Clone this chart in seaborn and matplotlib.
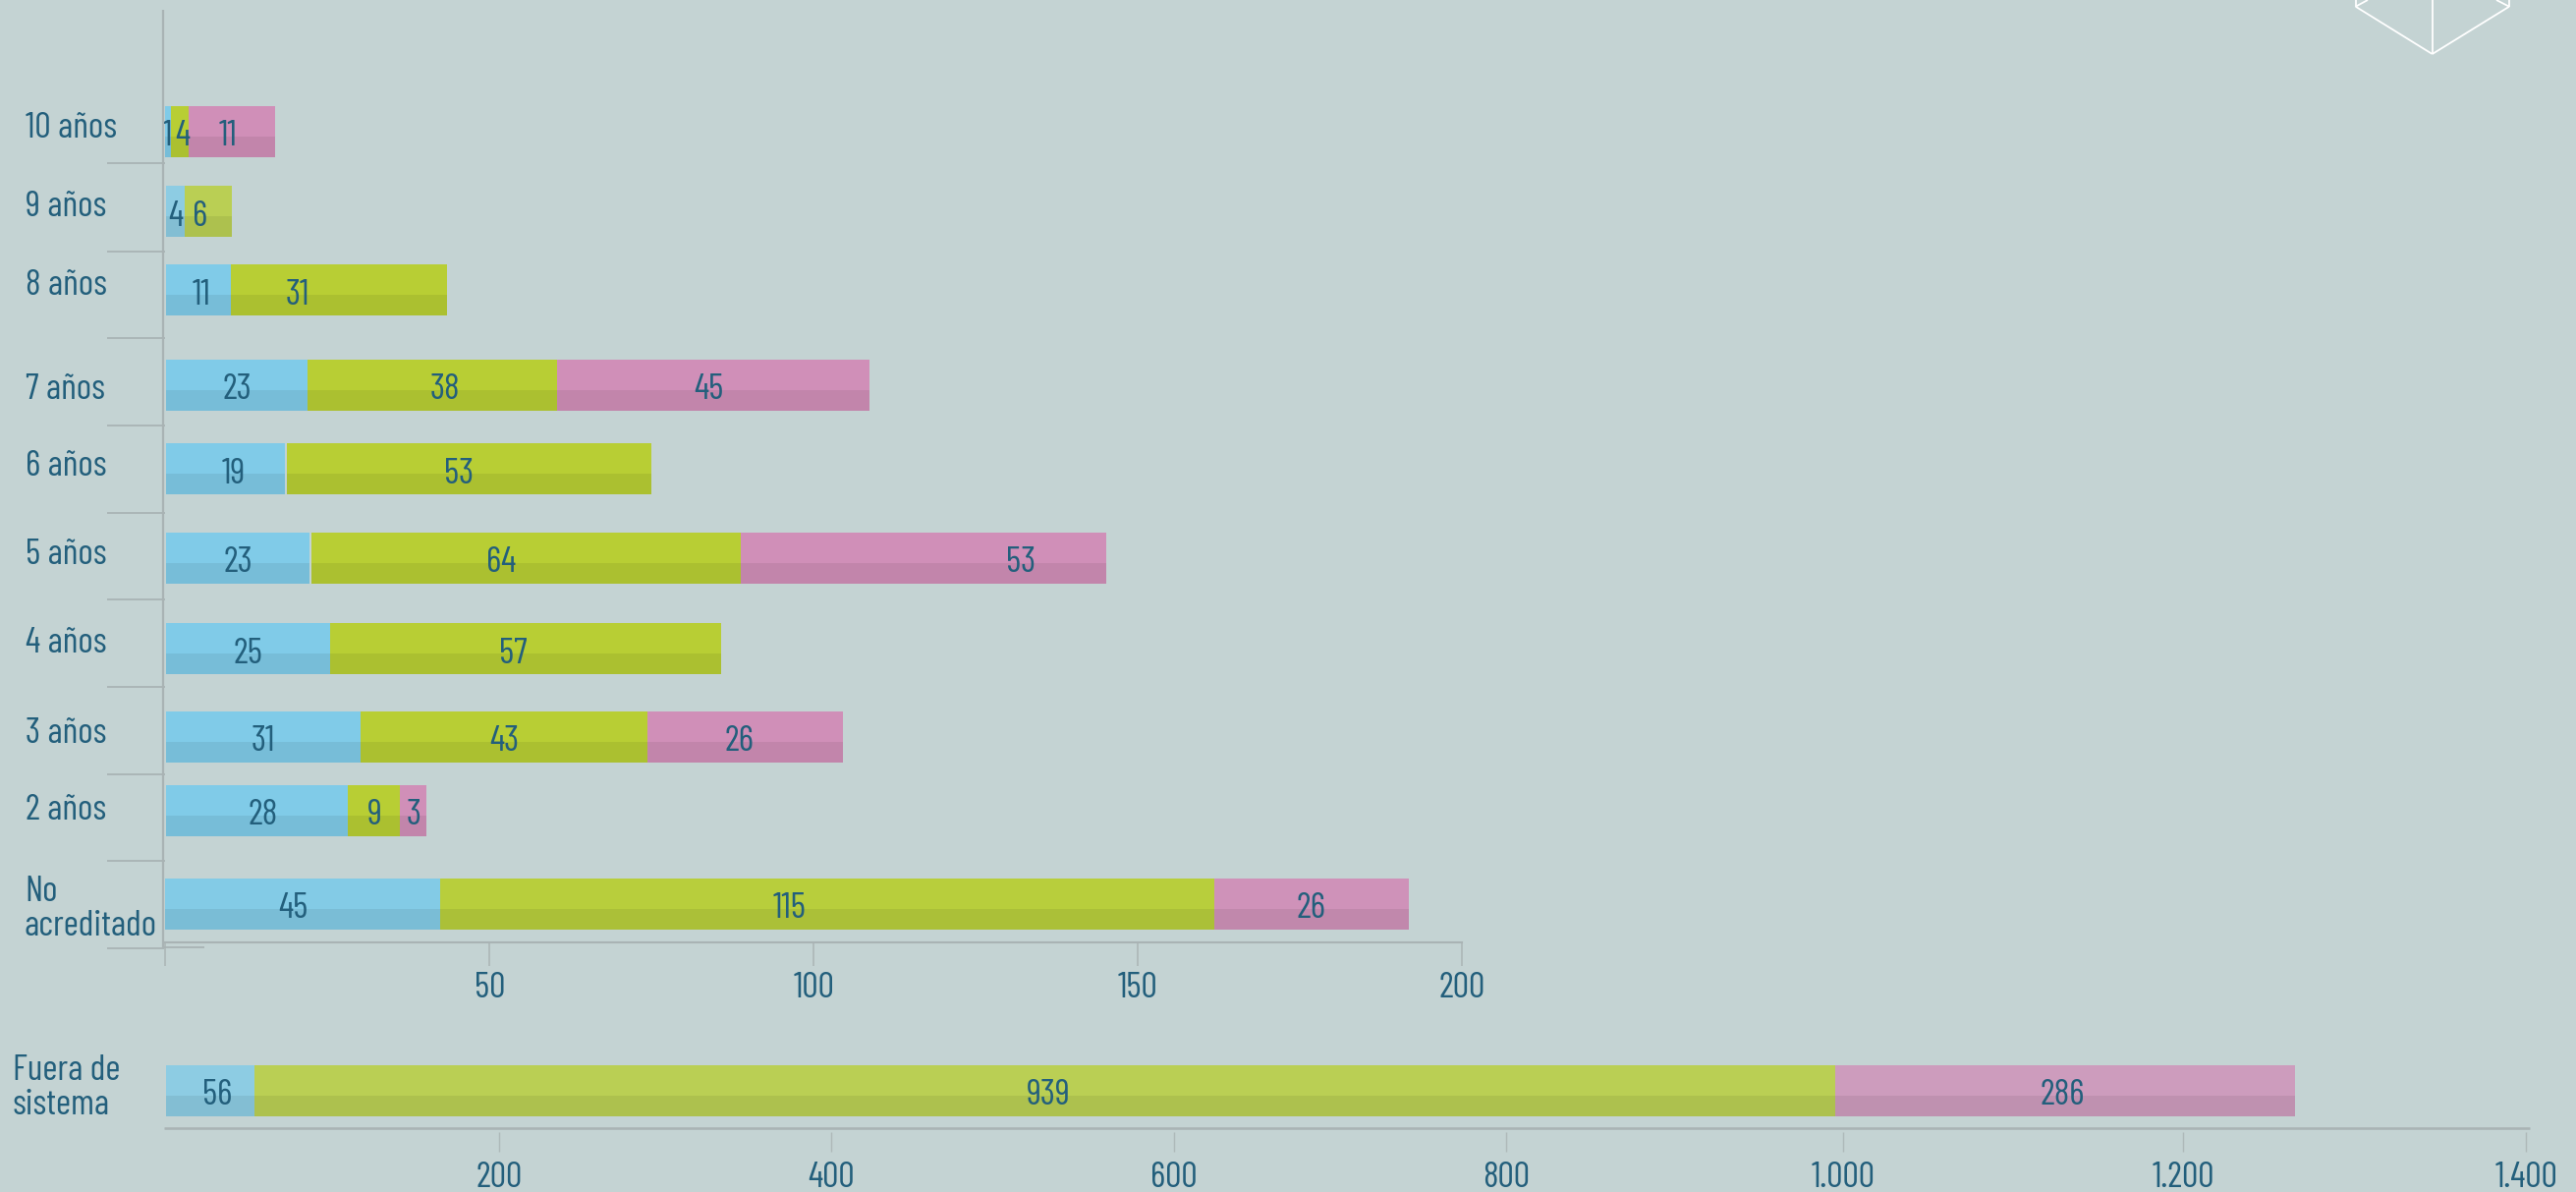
import numpy as np
import matplotlib
matplotlib.use("Agg")
import matplotlib.pyplot as plt
from matplotlib.lines import Line2D
from matplotlib.transforms import blended_transform_factory
from matplotlib import font_manager as fm
import seaborn as sns

# ---------- data ----------
categories = ["10 años", "9 años", "8 años", "7 años", "6 años", "5 años",
              "4 años", "3 años", "2 años", "No\nacreditado"]
# printed values
blue_labels = [1, 4, 11, 23, 19, 23, 25, 31, 28, 45]
green_labels = [4, 6, 31, 38, 53, 64, 57, 43, 9, 115]
pink_labels = [11, None, None, 45, None, 53, None, 26, 3, 26]
# segment lengths as read against the drawn axis (the source is not exactly to scale)
blue_len = [1.06, 2.9, 10.0, 21.8, 18.4, 22.1, 25.3, 30.0, 28.1, 42.6]
green_len = [2.7, 7.3, 33.3, 38.5, 56.2, 66.2, 60.3, 44.2, 8.0, 119.4]
pink_len = [13.3, 0, 0, 48.2, 0, 56.4, 0, 30.2, 4.1, 30.0]

outside_category = ["Fuera de\nsistema"]
outside_labels = [[56], [939], [286]]
outside_len = [[52.6], [935.0], [271.4]]

upper_ticks = [0, 50, 100, 150, 200]
upper_ticklabels = ["", "50", "100", "150", "200"]
# the tick marks of the source sit slightly off their nominal values
lower_ticks = [200, 396.4, 599.2, 795.6, 995, 1196, 1399]
lower_ticklabels = ["200", "400", "600", "800", "1.000", "1.200", "1.400"]

# ---------- layout / style (pixels of the 2622x1213 canvas) ----------
W, H = 2622, 1213
BG = "#C4D3D3"
TXT = "#235F7C"
LINE = "#A9B3B4"
TICK = "#AEB9B9"
BLUE, GREEN, PINK = "#80CBE8", "#B8CE34", "#D08FB8"
row_y = np.array([134, 215, 295, 392, 477, 568, 660.5, 750, 825, 920])
row_start = np.array([-0.2, 0.1, 0.1, 0.1, 0.1, 0.1, 0.1, 0.1, 0.1, -0.2])
row_alpha = [1, .8, 1, 1, 1, 1, 1, 1, 1, .95]
# thin background gap after the blue segment on the 6 and 5 años rows
blue_gap = np.array([0, 0, 0, 0, 0.2, 0.3, 0, 0, 0, 0])
sep_y = [166, 256, 344, 433, 522, 610, 699, 788, 876]
label_y = [130, 211, 290, 396, 474.5, 565, 655, 747, 825, 925]
BAR_H, STRIP_H = 52, 21
FS = 26.5
PX = 0.72  # px -> pt at 100 dpi

# pixel nudges of printed values from the segment centre, (row, series) -> dx
nudges = {(0, 1): 3, (0, 2): -4, (1, 1): -9, (2, 0): 3, (2, 1): -42, (3, 1): 13, (3, 2): -5,
          (4, 0): 8, (4, 1): -10, (5, 1): -25, (5, 2): 99, (6, 1): -13, (7, 2): -6,
          (8, 0): 6, (9, 0): -9, (9, 1): -38}

sns.set_theme(style="white")
installed = {f.name for f in fm.fontManager.ttflist}
plt.rcParams["font.family"] = [n for n in ["Barlow Condensed", "DejaVu Sans"] if n in installed]
plt.rcParams["font.size"] = FS
plt.rcParams["axes.facecolor"] = "none"


def place(top, bottom, left, right):
    return [left / W, (H - bottom) / H, (right - left) / W, (bottom - top) / H]


def stacked(ax, rows, series, start, colors, alphas, labels, nudge=None, gap=None, ylabel_nudge=5):
    rows = np.asarray(rows, float)
    native = np.min(np.diff(rows)) if len(rows) > 1 else 1
    left = np.asarray(start, float).copy()
    for s, (vals, col) in enumerate(zip(series, colors)):
        vals = np.asarray(vals, float)
        sns.barplot(x=vals, y=rows, orient="y", native_scale=True, left=left, color=col,
                    saturation=1, width=BAR_H / native, errorbar=None, linewidth=0, ax=ax)
        bars = ax.containers[-1]
        for patch, a in zip(bars, alphas):
            patch.set_alpha(a)
        # darker lower band of each bar
        sns.barplot(x=vals, y=rows + (BAR_H - STRIP_H) / 2, orient="y", native_scale=True,
                    left=left, color="black", saturation=1, width=STRIP_H / native,
                    errorbar=None, linewidth=0, alpha=0.065, ax=ax)
        for r, y in enumerate(rows):
            txt = labels[s][r]
            if txt is None:
                continue
            dx = (nudge or {}).get((r, s), 0)
            ax.annotate(str(txt), xy=(left[r] + vals[r] / 2, y), textcoords="offset points",
                        xytext=(dx * PX, -ylabel_nudge * PX), ha="center", va="center",
                        color=TXT, fontsize=FS, zorder=5)
        left += vals
        if s == 0 and gap is not None:
            left += gap


def frame_line(x0, y0, x1, y1, color=LINE, lw=1.5):
    fig.add_artist(Line2D([x0 / W, x1 / W], [1 - y0 / H, 1 - y1 / H],
                          transform=fig.transFigure, color=color, lw=lw, solid_capstyle="butt"))


fig = plt.figure(figsize=(W / 100, H / 100), dpi=100, facecolor=BG)

# --- upper chart ---
ax = fig.add_axes(place(10, 959, 168.4, 1488))
stacked(ax, row_y, [blue_len, green_len, pink_len], row_start, [BLUE, GREEN, PINK], row_alpha,
        [blue_labels, green_labels, pink_labels], nudges, blue_gap)
ax.set_xlim(0, 200)
ax.set_ylim(959, 10)
ax.set_xlabel("")
ax.set_ylabel("")
sns.despine(ax=ax, top=True, right=True, left=True, bottom=False)
ax.spines["bottom"].set_color(LINE)
ax.spines["bottom"].set_linewidth(1.5)
ax.set_xticks(upper_ticks, upper_ticklabels)
ax.tick_params(axis="x", length=24 * PX, width=1.3, color=TICK, pad=4, labelsize=FS, labelcolor=TXT,
               bottom=True)
ax.set_yticks(sep_y, [""] * len(sep_y))
ax.tick_params(axis="y", length=59 * PX, width=1.3, color=LINE, left=True)
trans = blended_transform_factory(fig.transFigure, ax.transData)
for name, y in zip(categories, label_y):
    ax.text(26 / W if "\n" not in name else 25 / W, y, name, transform=trans, ha="left", va="center",
            color=TXT, fontsize=FS, linespacing=1.1, clip_on=False)

# --- lower chart ---
ax2 = fig.add_axes(place(1060, 1152, 163.8, 2573))
stacked(ax2, [1110], outside_len, [3.0], [BLUE, GREEN, PINK], [.8],
        outside_labels, {(0, 0): 7, (0, 1): 3, (0, 2): -3})
ax2.set_xlim(0, 1400)
ax2.set_ylim(1152, 1060)
ax2.set_xlabel("")
ax2.set_ylabel("")
sns.despine(ax=ax2, top=True, right=True, left=True, bottom=True)
ax2.hlines(1147.7, 2, 1401, color=LINE, lw=1.8, clip_on=False)
ax2.set_xticks(lower_ticks, lower_ticklabels)
ax2.tick_params(axis="x", length=20 * PX, width=1.0, color=TICK, pad=7, labelsize=FS, labelcolor=TXT,
                bottom=True)
ax2.set_yticks([])
trans2 = blended_transform_factory(fig.transFigure, ax2.transData)
ax2.text(13 / W, 1107, outside_category[0], transform=trans2, ha="left", va="center",
         color=TXT, fontsize=FS, linespacing=1.1, clip_on=False)

# --- frame pieces of the source drawing ---
frame_line(165.7, 10, 165.7, 965, lw=1.6)
frame_line(109, 965, 167, 965, lw=1.3)
frame_line(167, 964, 208, 964, lw=1.3)

# white cube, cut by the top edge
for seg in [((2410, 0), (2397.7, 6.7)), ((2397.7, 0), (2397.7, 6.7)), ((2397.7, 6.7), (2475.7, 55)),
            ((2475.7, 0), (2475.7, 55)), ((2475.7, 55), (2554, 6.7)), ((2554, 6.7), (2541, 0)),
            ((2554, 0), (2554, 6.7))]:
    frame_line(seg[0][0], seg[0][1], seg[1][0], seg[1][1], color="white", lw=1.3)

fig.savefig("out.png", dpi=100, facecolor=BG)
